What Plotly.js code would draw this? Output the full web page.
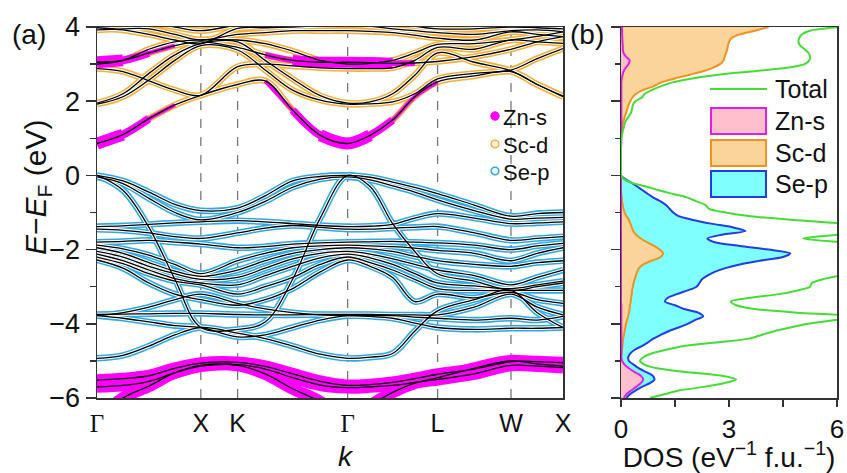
<!DOCTYPE html>
<html><head><meta charset="utf-8">
<script src="https://cdn.plot.ly/plotly-3.0.1.min.js"></script>
<style>html,body{margin:0;padding:0;background:#fff;} #plot{width:847px;height:473px;}</style>
</head><body><div id="plot"></div>
<script>
// ---------- band structure data ----------
const K_NODES = [0, 0.25, 0.5, 0.75, 1, 1.354, 1.62, 1.884, 2.15, 2.414, 2.63, 2.847, 3.06, 3.28, 3.634, 3.987, 4.24, 4.488];
const K_TICKS = [0, 1, 1.354, 2.414, 3.28, 3.987, 4.488];
const K_LABELS = ['Γ', 'X', 'K', 'Γ', 'L', 'W', 'X'];

const SE_P_BANDS = [
  [0.00, -0.15, -0.45, -0.78, -0.95, -0.88, -0.55, -0.15, -0.03, 0.00, -0.05, -0.18, -0.32, -0.49, -0.80, -1.10, -1.03, -1.00],
  [-0.04, -0.22, -0.62, -1.00, -1.20, -1.00, -0.70, -0.32, -0.10, -0.04, -0.12, -0.28, -0.45, -0.66, -0.95, -1.18, -1.15, -1.13],
  [0.00, -0.40, -1.40, -2.80, -4.10, -4.15, -3.95, -2.80, -1.15, 0.00, -0.30, -1.30, -2.05, -2.65, -2.85, -3.10, -3.00, -2.90],
  [-1.38, -1.36, -1.32, -1.28, -1.25, -1.22, -1.25, -1.30, -1.35, -1.38, -1.37, -1.32, -1.15, -1.03, -1.15, -1.30, -1.28, -1.25],
  [-1.45, -1.48, -1.55, -1.65, -1.70, -1.55, -1.42, -1.35, -1.40, -1.45, -1.45, -1.42, -1.40, -1.38, -1.55, -1.75, -1.70, -1.65],
  [-1.80, -1.78, -1.75, -1.80, -1.85, -1.95, -1.92, -1.85, -1.82, -1.80, -1.79, -1.78, -1.80, -1.82, -1.88, -2.00, -1.90, -1.83],
  [-1.88, -1.98, -2.15, -2.40, -2.65, -2.30, -2.10, -1.95, -1.90, -1.88, -1.90, -1.92, -1.96, -2.02, -2.10, -2.30, -2.10, -1.95],
  [-1.95, -2.10, -2.35, -2.58, -2.72, -2.55, -2.30, -2.10, -2.00, -1.95, -1.98, -2.05, -2.18, -2.30, -2.40, -2.45, -2.35, -2.30],
  [-2.05, -2.20, -2.45, -2.65, -2.80, -2.75, -2.50, -2.25, -2.10, -2.05, -2.12, -2.25, -2.40, -2.55, -2.70, -2.95, -2.75, -2.55],
  [-2.12, -2.30, -2.55, -2.78, -2.90, -2.95, -2.70, -2.45, -2.22, -2.12, -2.22, -2.40, -2.65, -2.90, -2.98, -3.05, -2.95, -2.85],
  [-2.20, -2.38, -2.65, -2.85, -2.95, -3.20, -3.00, -2.75, -2.40, -2.20, -2.35, -2.55, -2.80, -3.05, -3.10, -3.10, -3.10, -3.10],
  [-2.28, -2.50, -2.90, -3.20, -3.35, -3.50, -3.35, -3.05, -2.60, -2.28, -2.45, -2.75, -3.40, -3.20, -3.30, -3.15, -3.35, -3.45],
  [-3.75, -3.74, -3.73, -3.72, -3.72, -3.75, -3.76, -3.76, -3.75, -3.75, -3.75, -3.76, -3.76, -3.76, -3.55, -3.20, -3.55, -3.76],
  [-3.78, -3.70, -3.55, -3.35, -3.20, -3.45, -3.60, -3.70, -3.76, -3.78, -3.78, -3.78, -3.82, -3.85, -3.90, -3.85, -3.90, -3.80],
  [-4.93, -4.85, -4.60, -4.30, -4.10, -4.25, -4.40, -4.60, -4.82, -4.93, -4.90, -4.80, -4.20, -3.65, -3.35, -3.10, -3.70, -4.10],
  [-3.78, -3.85, -3.95, -4.05, -4.10, -4.35, -4.30, -4.10, -3.90, -3.78, -3.80, -3.85, -3.98, -4.10, -4.15, -4.12, -4.12, -4.10]
];

const SC_D_BANDS = [
  [0.86, 1.10, 1.53, 1.90, 2.16, 2.45, 2.55, 1.76, 1.08, 0.86, 1.08, 1.49, 2.12, 2.52, 2.68, 2.80, 2.45, 2.12],
  [1.92, 2.12, 2.57, 3.10, 3.50, 3.38, 2.84, 2.30, 2.03, 1.92, 1.93, 1.98, 2.20, 2.60, 2.75, 2.84, 3.15, 3.42],
  [1.95, 2.20, 2.75, 3.25, 3.55, 3.60, 3.10, 2.60, 2.15, 1.95, 1.98, 2.20, 2.70, 3.30, 3.05, 2.82, 2.45, 2.14],
  [3.05, 3.10, 3.30, 3.50, 3.60, 3.45, 3.25, 3.10, 3.05, 3.05, 3.04, 3.02, 3.03, 3.07, 3.20, 3.40, 3.60, 3.74],
  [2.88, 2.80, 2.55, 2.30, 2.16, 2.93, 3.00, 2.95, 2.90, 2.88, 2.88, 2.90, 3.10, 3.45, 3.40, 3.65, 3.60, 3.56],
  [3.00, 3.10, 3.40, 3.60, 3.65, 3.65, 3.55, 3.35, 3.10, 3.00, 3.02, 3.10, 3.30, 3.53, 3.55, 3.65, 3.75, 3.87],
  [3.92, 3.95, 3.95, 3.80, 3.65, 3.80, 3.85, 3.90, 3.90, 3.90, 3.88, 3.85, 3.78, 3.70, 3.65, 3.87, 3.80, 3.74],
  [3.98, 3.92, 3.80, 3.65, 3.55, 3.96, 3.98, 4.00, 4.03, 4.05, 4.02, 3.95, 3.90, 3.85, 3.80, 3.90, 3.92, 3.87],
  [4.15, 4.12, 4.10, 4.00, 3.90, 4.05, 4.08, 4.10, 4.12, 4.15, 4.12, 4.10, 4.02, 3.95, 3.95, 4.00, 3.98, 3.95]
];

const ZN_S_BANDS = [
  [-5.52, -5.48, -5.40, -5.20, -5.06, -5.04, -5.15, -5.35, -5.55, -5.66, -5.64, -5.58, -5.48, -5.36, -5.22, -5.02, -5.02, -5.05],
  [-6.60, -6.00, -5.68, -5.32, -5.12, -5.12, -5.35, -5.75, -6.10, -6.60, -6.20, -5.85, -5.60, -5.45, -5.20, -5.00, -5.08, -5.14],
  [-5.70, -5.66, -5.55, -5.32, -5.14, -5.10, -5.22, -5.45, -5.65, -5.72, -5.70, -5.66, -5.58, -5.50, -5.35, -5.12, -5.14, -5.18]
];

// Zn-s weight on conduction bands: [band index, first node, last node, weight]
const ZN_S_CB_WEIGHT = [
  [0, 0, 3, 4], [0, 0, 2, 8], [0, 0, 1, 12],
  [0, 6, 13, 4], [0, 7, 11, 8], [0, 8, 10, 12],
  [3, 0, 3, 4], [3, 0, 2, 8], [3, 0, 1, 12],
  [3, 6, 12, 6], [3, 7, 11, 11]
];

// ---------- DOS data ----------
const E_GRID = [
  -6.0,-5.9,-5.8,-5.7,-5.6,-5.5,-5.4,-5.3,-5.2,-5.1,
  -5.0,-4.9,-4.8,-4.7,-4.6,-4.5,-4.4,-4.3,-4.2,-4.1,
  -4.0,-3.9,-3.8,-3.7,-3.6,-3.5,-3.4,-3.3,-3.2,-3.1,
  -3.0,-2.9,-2.8,-2.7,-2.6,-2.5,-2.4,-2.3,-2.2,-2.1,
  -2.0,-1.9,-1.8,-1.7,-1.6,-1.5,-1.4,-1.3,-1.2,-1.1,
  -1.0,-0.9,-0.8,-0.7,-0.6,-0.5,-0.4,-0.3,-0.2,-0.1,
  0.0,0.1,0.2,0.3,0.4,0.5,0.6,0.7,0.8,0.9,
  1.0,1.1,1.2,1.3,1.4,1.5,1.6,1.7,1.8,1.9,
  2.0,2.1,2.2,2.3,2.4,2.5,2.6,2.7,2.8,2.9,
  3.0,3.1,3.2,3.3,3.4,3.5,3.6,3.7,3.8,3.9,
  4.0
];
const DOS_TOTAL = [
  0.80,1.20,1.60,2.30,2.85,3.20,2.80,1.80,1.00,0.65,
  0.53,0.62,0.85,1.25,1.75,2.70,3.55,3.90,4.25,4.70,
  5.20,5.95,6.40,4.90,3.70,3.20,3.05,3.60,4.40,4.90,
  5.25,5.30,5.60,6.10,6.80,7.50,8.20,8.80,9.20,9.00,
  8.20,7.00,6.10,5.06,6.00,7.00,7.20,6.20,4.80,3.60,
  2.90,2.45,2.35,2.10,1.85,1.45,1.05,0.70,0.30,0.08,
  0,0,0,0,0,0,0,0,0,0,
  0.01,0.03,0.05,0.08,0.10,0.15,0.22,0.28,0.31,0.33,
  0.40,0.58,0.66,0.85,1.10,1.40,1.90,2.60,3.60,4.60,
  5.10,5.23,5.25,5.21,5.10,4.98,4.93,4.95,5.02,5.25,
  6.10
];
const DOS_ZN_S = [
  0.08,0.15,0.28,0.42,0.55,0.62,0.55,0.38,0.22,0.10,
  0.03,0.01,0.01,0.01,0.01,0.01,0.01,0.01,0.01,0.01,
  0.01,0.01,0.01,0.01,0.01,0.01,0,0,0,0,
  0,0,0,0,0,0,0,0,0,0,
  0,0,0,0,0,0,0,0,0,0,
  0,0,0,0,0,0,0,0,0,0,
  0,0,0,0,0,0,0,0,0.005,0.01,
  0.01,0.01,0.01,0.01,0.01,0.01,0.01,0.01,0.01,0.01,
  0.01,0.01,0.01,0.01,0.01,0.01,0.02,0.04,0.07,0.13,
  0.21,0.24,0.14,0.07,0.05,0.05,0.04,0.04,0.03,0.03,
  0.03
];
const DOS_SC_D = [
  0,0,0,0,0,0,0,0,0,0,
  0,0,0.02,0.03,0.04,0.05,0.06,0.08,0.10,0.12,
  0.14,0.17,0.20,0.22,0.24,0.25,0.27,0.28,0.30,0.31,
  0.33,0.35,0.38,0.41,0.45,0.50,0.62,0.85,1.10,1.17,
  1.08,0.92,0.72,0.55,0.42,0.34,0.30,0.26,0.22,0.15,
  0.10,0.07,0.05,0.03,0.02,0.01,0,0,0,0,
  0,0,0,0,0,0,0,0,0,0,
  0,0.01,0.02,0.03,0.05,0.08,0.11,0.15,0.18,0.21,
  0.26,0.32,0.42,0.60,0.90,1.10,1.45,1.85,2.25,2.55,
  2.75,2.85,2.88,2.92,2.95,2.97,3.00,3.07,3.30,3.72,
  4.10
];
const DOS_SE_P = [
  0.15,0.25,0.40,0.58,0.80,0.93,0.88,0.70,0.50,0.35,
  0.22,0.20,0.26,0.38,0.58,0.75,0.90,1.10,1.32,1.60,
  1.85,2.05,2.28,2.15,1.75,1.50,1.22,1.30,1.55,1.85,
  2.10,2.18,2.25,2.40,2.60,2.90,3.30,3.86,4.50,4.70,
  4.10,3.30,2.60,2.40,2.80,3.46,3.10,2.50,2.00,1.60,
  1.45,1.35,1.25,1.10,0.90,0.75,0.60,0.45,0.30,0.12,
  0,0,0,0,0,0,0,0,0,0,
  0,0,0,0,0,0,0,0,0,0,
  0,0,0,0,0,0,0,0,0,0,
  0,0,0,0,0,0,0,0,0,0,
  0
];
const E_TICKS = [-6, -4, -2, 0, 2, 4];
const E_MINOR = [-5, -3, -1, 1, 3];
const DOS_TICKS = [0, 3, 6];
const DOS_MINOR = [1.5, 4.5];

// ---------- styles ----------
const C_SEP = '#2ea8e5', C_SCD = '#f8ae35', C_ZN = '#ff00ff';
const W = 847, H = 473, MT = 27, MB = 75;
const PH = H - MT - MB;
const px = x => x / W;
const py = y => (H - MB - y) / PH;
const FONT = 'Liberation Sans, Arial, Helvetica, sans-serif';

function bandLine(xs, ys, color, width) {
  return {x: xs, y: ys, xaxis: 'x', yaxis: 'y', mode: 'lines', hoverinfo: 'skip',
          showlegend: false, line: {color: color, width: width, shape: 'spline', smoothing: 1}};
}
const traces = [];
SE_P_BANDS.forEach(b => traces.push(bandLine(K_NODES, b, C_SEP, 6.5)));
SC_D_BANDS.forEach(b => traces.push(bandLine(K_NODES, b, C_SCD, 6.5)));
SE_P_BANDS.concat(SC_D_BANDS).forEach(b => traces.push(bandLine(K_NODES, b, '#ffffff', 3.4)));
ZN_S_BANDS.forEach(b => traces.push(bandLine(K_NODES, b, C_ZN, 12)));
ZN_S_CB_WEIGHT.forEach(([bi, s, e, w]) =>
  traces.push(bandLine(K_NODES.slice(s, e + 1), SC_D_BANDS[bi].slice(s, e + 1), C_ZN, w)));
SE_P_BANDS.concat(SC_D_BANDS, ZN_S_BANDS).forEach(b => traces.push(bandLine(K_NODES, b, '#000000', 1.3)));

function dosTrace(xs, lineColor, fillColor) {
  const t = {x: xs, y: E_GRID, xaxis: 'x2', yaxis: 'y2', mode: 'lines', hoverinfo: 'skip',
             showlegend: false, line: {color: lineColor, width: 2, shape: 'spline', smoothing: 0.8}};
  if (fillColor) { t.fill = 'tozerox'; t.fillcolor = fillColor; }
  return t;
}
traces.push(dosTrace(DOS_SE_P, '#1d3fe3', '#80ffff'));
traces.push(dosTrace(DOS_SC_D, '#f0921e', '#fbd49c'));
traces.push(dosTrace(DOS_ZN_S, '#e020e0', '#ffc0cb'));
traces.push(dosTrace(DOS_TOTAL, '#44dd33', null));

const shapes = K_TICKS.slice(1, -1).map(k => ({type: 'line', xref: 'x', yref: 'y', x0: k, x1: k, y0: -6, y1: 4,
  layer: 'below', line: {color: '#777', width: 1.3, dash: 'dash'}}));

function circ(cx, cy, r, fill, lc, lw) {
  return {type: 'circle', xref: 'paper', yref: 'paper', xsizemode: 'pixel', ysizemode: 'pixel',
          xanchor: px(cx), yanchor: py(cy), x0: -r, x1: r, y0: -r, y1: r,
          fillcolor: fill, line: {color: lc, width: lw}};
}
shapes.push(circ(495, 116, 4.2, C_ZN, C_ZN, 1));
shapes.push(circ(495, 144, 3.8, 'rgba(0,0,0,0)', C_SCD, 1.6));
shapes.push(circ(495, 171, 3.8, 'rgba(0,0,0,0)', C_SEP, 1.6));
// DOS legend
shapes.push({type: 'line', xref: 'paper', yref: 'paper', x0: px(710), x1: px(767), y0: py(89), y1: py(89),
             line: {color: '#44dd33', width: 2}});
[[121, '#ffc0cb', '#e020e0'], [153, '#fbd49c', '#f0921e'], [184, '#80ffff', '#1d3fe3']].forEach(([cy, f, l]) =>
  shapes.push({type: 'rect', xref: 'paper', yref: 'paper', x0: px(711), x1: px(766), y0: py(cy - 13), y1: py(cy + 13),
               fillcolor: f, line: {color: l, width: 2}}));

function ann(text, x, y, size, opts) {
  return Object.assign({text: text, xref: 'paper', yref: 'paper', x: px(x), y: py(y), showarrow: false,
    xanchor: 'left', yanchor: 'middle', font: {family: FONT, size: size, color: '#111'}}, opts || {});
}
const annotations = [
  ann('Zn-s', 501, 117, 22), ann('Sc-d', 501, 145, 22), ann('Se-p', 501, 172, 22),
  ann('Total', 773, 89, 25), ann('Zn-s', 773, 121, 25), ann('Sc-d', 773, 153, 25), ann('Se-p', 773, 184, 25),
  ann('(a)', 10, 34, 28), ann('(b)', 568, 34, 28),
  ann('<i>E</i>−<i>E</i><sub>F</sub> (eV)', 37, 188, 30, {xanchor: 'center', textangle: -90}),
  ann('<i>k</i>', 346, 456, 28, {xanchor: 'center'})
];

const axLine = {showline: true, mirror: true, linecolor: '#333', linewidth: 1.5, showgrid: false, zeroline: false, fixedrange: true};
const layout = {
  width: W, height: H, margin: {l: 0, r: 0, t: MT, b: MB},
  paper_bgcolor: '#fff', plot_bgcolor: '#fff', showlegend: false,
  font: {family: FONT, color: '#111', size: 20},
  xaxis: Object.assign({domain: [97 / W, 563 / W], range: [0, 4.488], tickmode: 'array', tickvals: K_TICKS,
    ticktext: K_LABELS.map(s => s === 'Γ' ? '<span style="font-family:Liberation Serif, Times New Roman, serif">Γ</span>' : s),
    ticks: '', tickfont: {size: 25}, ticklabelstandoff: 2}, axLine),
  yaxis: Object.assign({domain: [0, 1], range: [-6, 4], tickmode: 'array', tickvals: E_TICKS, ticks: 'outside',
    ticklen: 10, tickwidth: 1.5, tickcolor: '#333', tickfont: {size: 27},
    minor: {tickmode: 'array', tickvals: E_MINOR, ticks: 'outside', ticklen: 6, tickwidth: 1.5, tickcolor: '#333'}}, axLine),
  xaxis2: Object.assign({domain: [621 / W, 837 / W], anchor: 'y2', range: [0, 6], tickmode: 'array', tickvals: DOS_TICKS,
    ticks: 'outside', ticklen: 7, tickwidth: 1.5, tickcolor: '#333', tickfont: {size: 26},
    title: {text: 'DOS (eV<sup>−1</sup> f.u.<sup>−1</sup>)', font: {size: 28}, standoff: 0},
    minor: {tickmode: 'array', tickvals: DOS_MINOR, ticks: 'outside', ticklen: 7, tickwidth: 1.5, tickcolor: '#333'}}, axLine),
  yaxis2: Object.assign({domain: [0, 1], anchor: 'x2', range: [-6, 4], tickmode: 'array', tickvals: E_TICKS,
    ticks: 'outside', ticklen: 9, tickwidth: 1.5, tickcolor: '#333', showticklabels: false, tickfont: {size: 27},
    minor: {tickmode: 'array', tickvals: E_MINOR, ticks: 'outside', ticklen: 5, tickwidth: 1.5, tickcolor: '#333'}}, axLine),
  shapes: shapes, annotations: annotations
};
Plotly.newPlot('plot', traces, layout, {staticPlot: true, displayModeBar: false});
</script></body></html>
